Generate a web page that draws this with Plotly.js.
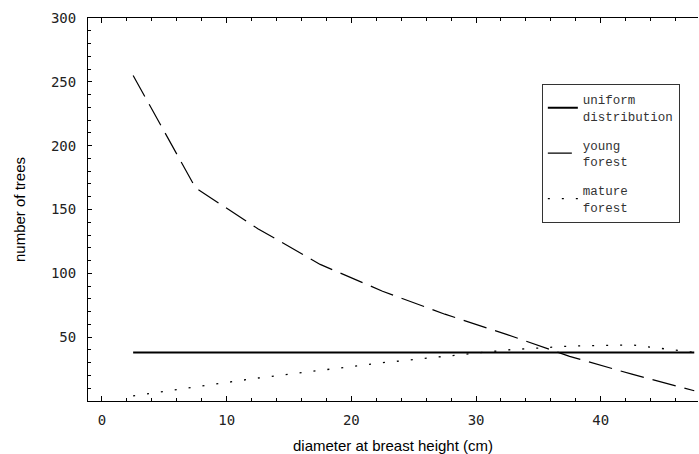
<!DOCTYPE html>
<html>
<head>
<meta charset="utf-8">
<script src="https://cdn.plot.ly/plotly-3.0.1.min.js"></script>
<style>html,body{margin:0;padding:0;background:#fff;}</style>
</head>
<body>
<div id="chart" style="width:699px;height:454px;"></div>
<script>
// Diameter class midpoints (cm)
const diameter = [2.5, 7.5, 12.5, 17.5, 22.5, 27.5, 32.5, 37.5, 42.5, 47.5];
// Number of trees per class
const uniformDist = [38, 38, 38, 38, 38, 38, 38, 38, 38, 38];
const youngForest = [255, 167, 135, 107, 86, 68, 52, 35, 21, 8];
const matureForest = [4, 11, 18, 24, 30, 35, 40, 43, 44, 38];
const seriesNames = ['uniform<br>distribution', 'young<br>forest', 'mature<br>forest'];
const xTickVals = [0, 10, 20, 30, 40];
const yTickVals = [50, 100, 150, 200, 250, 300];

const traces = [
  {x: diameter, y: uniformDist, name: seriesNames[0], legendgroup: 'a', mode: 'lines',
   line: {color: '#000', width: 2, dash: 'solid'}},
  {x: diameter, y: youngForest, name: seriesNames[1], legendgroup: 'b', mode: 'lines',
   line: {color: '#000', width: 1.2, dash: '24px,9px'}},
  {x: diameter, y: matureForest, name: seriesNames[2], legendgroup: 'c', mode: 'lines',
   line: {color: '#000', width: 1.3, dash: '2px,12px'}}
];

const tickFont = {family: 'DejaVu Sans Mono', size: 14, color: '#222'};
const titleFont = {family: 'Liberation Sans, Arial', size: 15, color: '#000'};

const layout = {
  width: 699, height: 454,
  margin: {l: 88, r: 1, t: 18, b: 53},
  paper_bgcolor: '#fff', plot_bgcolor: '#fff',
  showlegend: true,
  legend: {
    x: 0.744, y: 0.828, xanchor: 'left', yanchor: 'top',
    bordercolor: '#333', borderwidth: 1, bgcolor: '#fff',
    font: {family: 'Liberation Mono, Courier New', size: 12.5, color: '#333'},
    traceorder: 'grouped', tracegroupgap: 10, itemwidth: 30
  },
  xaxis: {
    range: [-1.12, 47.8],
    tickmode: 'array', tickvals: xTickVals,
    ticks: 'inside', ticklen: 5, tickwidth: 1, tickcolor: '#000',
    minor: {tickmode: 'linear', tick0: 0, dtick: 2, ticks: 'inside', ticklen: 3, tickcolor: '#000'},
    showline: true, linecolor: '#000', linewidth: 1, mirror: 'allticks',
    showgrid: false, zeroline: false,
    tickfont: tickFont, ticklabelstandoff: 6,
    title: {text: 'diameter at breast height (cm)', font: titleFont, standoff: 13}
  },
  yaxis: {
    range: [0, 300],
    tickmode: 'array', tickvals: yTickVals,
    ticks: 'inside', ticklen: 4, tickwidth: 1, tickcolor: '#000',
    minor: {tickmode: 'linear', tick0: 0, dtick: 10, ticks: 'inside', ticklen: 3, tickcolor: '#000'},
    showline: true, linecolor: '#000', linewidth: 1, mirror: false,
    showgrid: false, zeroline: false,
    tickfont: tickFont, ticklabelstandoff: 8,
    title: {text: 'number of trees', font: titleFont, standoff: 21}
  }
};

Plotly.newPlot('chart', traces, layout, {displayModeBar: false, staticPlot: true});
</script>
</body>
</html>
